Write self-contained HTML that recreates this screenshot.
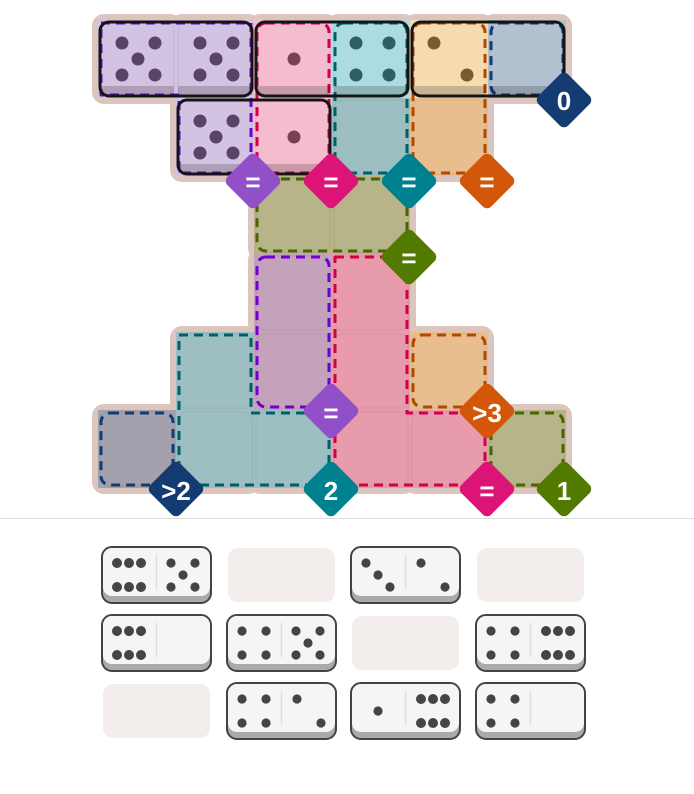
<!DOCTYPE html>
<html><head><meta charset="utf-8"><style>
html,body{margin:0;padding:0;background:#fff;width:694px;height:794px;overflow:hidden}
svg{position:absolute;left:0;top:0}
text{font-family:"Liberation Sans",sans-serif;font-weight:bold;fill:#fff;text-anchor:middle}
</style></head><body>
<svg id="s" width="694" height="794" viewBox="0 0 694 794">
<g id="bg"></g><g id="cells"></g><g id="dash" fill="none" stroke-width="3" stroke-dasharray="9 6" stroke-linejoin="round"></g><g id="placed"></g><g id="pips"></g>
<g id="badges"></g>
<line x1="0" y1="518.5" x2="694" y2="518.5" stroke="#ddd" stroke-width="1"/>
<g id="tray"></g>
<g font-size="26">
<text x="253" y="191">=</text>
<text x="331" y="191">=</text>
<text x="409" y="191">=</text>
<text x="487" y="191">=</text>
<text x="564" y="110">0</text>
<text x="409" y="267">=</text>
<text x="331" y="422">=</text>
<text x="487" y="422">&gt;3</text>
<text x="176" y="500">&gt;2</text>
<text x="331" y="500">2</text>
<text x="487" y="500">=</text>
<text x="564" y="500">1</text>
</g>
</svg>
<script>
const NS="http://www.w3.org/2000/svg";
function el(p,t,a){const e=document.createElementNS(NS,t);for(const k in a)e.setAttribute(k,a[k]);document.getElementById(p).appendChild(e);return e;}
const X=c=>98+c*78, Y=r=>20+r*78;
const cells=[
[0,0,'#d3c3e3'],[0,1,'#d3c3e3'],[0,2,'#f5bccf'],[0,3,'#acdce2'],[0,4,'#f7dbb0'],[0,5,'#b2c0d0'],
[1,1,'#d3c3e3'],[1,2,'#f5bccf'],[1,3,'#9dbfc2'],[1,4,'#e9be8e'],
[2,2,'#b7b48a'],[2,3,'#b7b48a'],
[3,2,'#c4a2bc'],[3,3,'#e89cab'],
[4,1,'#9ebfc2'],[4,2,'#c4a2bc'],[4,3,'#e89cab'],[4,4,'#e9be8e'],
[5,0,'#a3a1ae'],[5,1,'#9ebfc2'],[5,2,'#9ebfc2'],[5,3,'#e89cab'],[5,4,'#e89cab'],[5,5,'#b7b48a']];
cells.forEach(([r,c,f])=>{
 el('bg','rect',{x:X(c)-6,y:Y(r)-6,width:90,height:90,rx:12,fill:'#dcc5bc'});
});
cells.forEach(([r,c,f])=>{
 el('cells','rect',{x:X(c),y:Y(r),width:78,height:78,fill:f});
 el('cells','rect',{x:X(c)+2,y:Y(r)+2,width:74,height:74,rx:9,fill:f,stroke:'rgba(0,0,0,0.03)','stroke-width':2});
});
const R=(r,c,w,h,col)=>el('dash','rect',{x:X(c)+3,y:Y(r)+3,width:w*78-6,height:h*78-6,rx:9,stroke:col});
R(0,2,1,2,'#d0004a');R(0,3,1,2,'#005f68');R(0,4,1,2,'#b04a00');R(0,5,1,1,'#103c70');
R(2,2,2,1,'#4a6400');R(3,2,1,2,'#7000d0');R(4,4,1,1,'#b04a00');R(5,0,1,1,'#103c70');R(5,5,1,1,'#4a6400');
el('dash','path',{d:'M101,23 H251 V173 H179 V95 H101 Z',stroke:'#7000d0'});
el('dash','path',{d:'M335,257 H407 V413 H485 V485 H335 Z',stroke:'#d0004a'});
el('dash','path',{d:'M179,335 H251 V413 H329 V485 H179 Z',stroke:'#005f68'});
[[0,0,2],[0,2,2],[0,4,2],[1,1,2]].forEach(([r,c,w])=>{
 for(let i=0;i<w;i++){el('placed','rect',{x:X(c+i)+2,y:Y(r)+66,width:74,height:9,fill:'rgba(0,0,0,0.18)'});}
 el('placed','rect',{x:X(c)+2,y:Y(r)+2,width:w*78-4,height:74,rx:9,fill:'none',stroke:'#151515','stroke-width':3});
});
function bpips(r,c,n,col){const x=X(c),y=Y(r);const P={1:[[40,39]],4:[[24,23],[57,23],[24,55],[57,55]],5:[[24,23],[57,23],[40,39],[24,55],[57,55]],2:[[24,23],[57,55]]}[n]||[];
 P.forEach(([a,b])=>el('pips','circle',{cx:x+a,cy:y+b,r:6.5,fill:col}));}
bpips(0,0,5,'#574466');bpips(0,1,5,'#574466');bpips(1,1,5,'#574466');
bpips(0,2,1,'#7a4053');bpips(1,2,1,'#7a4053');bpips(0,3,4,'#2d5f63');bpips(0,4,2,'#7a5a30');
[[253,181,'#9150c8'],[331,181,'#dc1478'],[409,181,'#00818f'],[487,181,'#d3570a'],[564,100,'#143c73'],[409,257,'#527a00'],
[331,411,'#9150c8'],[487,411,'#d3570a'],[176,489,'#143c73'],[331,489,'#00818f'],[487,489,'#dc1478'],[564,489,'#527a00']].forEach(([x,y,c])=>{
 el('badges','rect',{x:x-21,y:y-21,width:42,height:42,rx:6,fill:c,transform:`rotate(45 ${x} ${y})`});
});
function half(x,y,n){const P={0:[],1:[[27,28]],2:[[15,16],[39,40]],3:[[15,16],[27,28],[39,40]],4:[[15,16],[39,16],[15,40],[39,40]],
 5:[[14,16],[38,16],[26,28],[14,40],[38,40]],6:[[15,16],[27,16],[39,16],[15,40],[27,40],[39,40]]}[n];
 P.forEach(([a,b])=>el('tray','circle',{cx:x+a,cy:y+b,r:n==6?5:4.6,fill:'#444'}));}
const tx=[102,227,351,476], ty=[547,615,683];
const T=[[[6,5],null,[3,2],null],[[6,0],[4,5],null,[4,6]],[null,[4,2],[1,6],[4,0]]];
T.forEach((row,ri)=>row.forEach((d,ci)=>{const x=tx[ci],y=ty[ri];
 if(!d){el('tray','rect',{x:x+1,y:y+1,width:107,height:54,rx:10,fill:'#f3eeeb'});return;}
 el('tray','rect',{x:x,y:y,width:109,height:56,rx:10,fill:'#aaa',stroke:'#444','stroke-width':2});
 el('tray','rect',{x:x+1,y:y+1,width:107,height:48,rx:9,fill:'#f5f5f5'});
 el('tray','line',{x1:x+54.5,y1:y+8,x2:x+54.5,y2:y+42,stroke:'#ddd','stroke-width':1.5});
 half(x,y,d[0]);half(x+55,y,d[1]);
}));
</script>
</body></html>
